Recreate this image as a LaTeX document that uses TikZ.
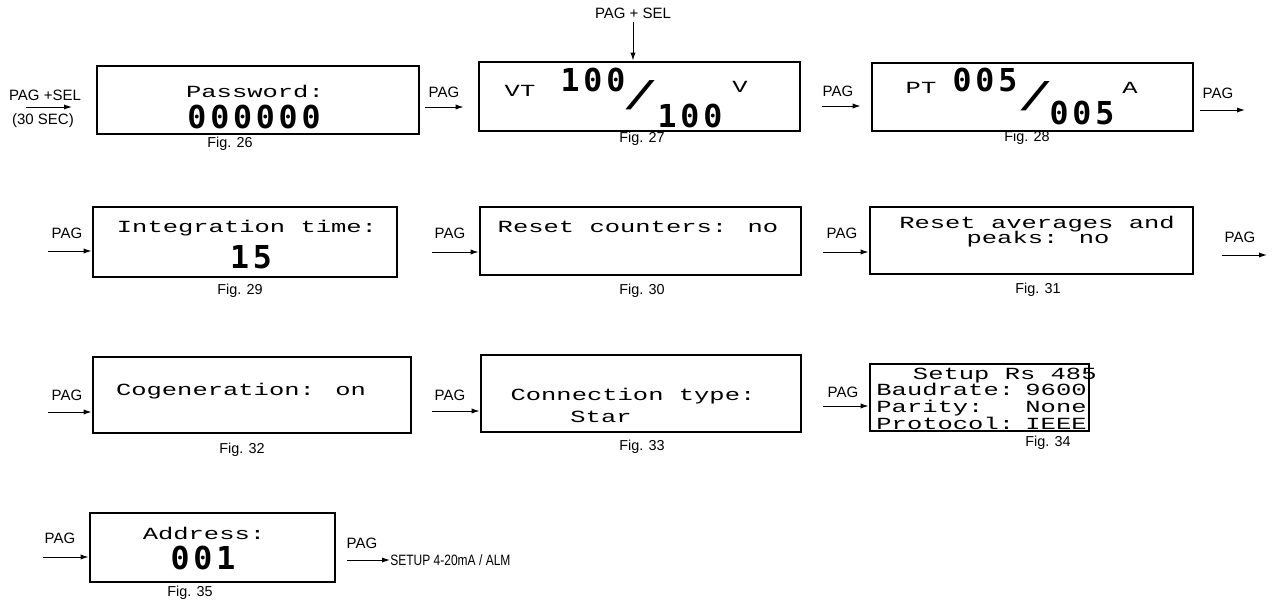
\documentclass[tikz,border=0pt]{standalone}
\usepackage{fontspec}
\setmainfont{Liberation Sans}
\newfontfamily\narrowfont[FakeStretch=0.8]{Liberation Sans}
\newfontfamily\lcdfont[FakeStretch=1.5]{Liberation Mono}
\newfontfamily\segfont[LetterSpace=12]{DejaVu Sans Mono}
\usetikzlibrary{arrows.meta, positioning, fit}

\begin{document}
\begin{tikzpicture}[
    x=0.5pt, y=-0.5pt, % one unit = one pixel of the sheet
    >={Latex[length=4pt, width=2.6pt]},
    screen/.style={draw, line width=1.4pt, inner sep=0pt},
    lcd/.style={font=\lcdfont\fontsize{8.5}{9}\selectfont, inner sep=0pt, anchor=base},
    seg/.style={font=\segfont\bfseries\fontsize{15.8}{16}\selectfont, inner sep=0pt},
    key/.style={font=\fontsize{7.5}{9}\selectfont, inner sep=0pt},
    figlabel/.style={font=\fontsize{7.2}{9}\selectfont, inner sep=0pt},
    flow/.style={->, line width=0.5pt}
]
\useasboundingbox (0,0) rectangle (1274,605);

% --- Display frames ---
\node[screen, fit={(97,66) (419,134)}] (f26) {};
\node[screen, fit={(479,62) (800,131)}] (f27) {};
\node[screen, fit={(872,63) (1193,131)}] (f28) {};
\node[screen, fit={(93,207) (397,277)}] (f29) {};
\node[screen, fit={(480,207) (801,275)}] (f30) {};
\node[screen, fit={(870,207) (1193,274)}] (f31) {};
\node[screen, fit={(93,357) (411,433)}] (f32) {};
\node[screen, fit={(481,355) (801,432)}] (f33) {};
\node[screen, fit={(870,364) (1089,431)}] (f34) {};
\node[screen, fit={(90,513) (335,582)}] (f35) {};

% --- Display contents (lcd lines sit on their baseline) ---
\node[lcd] (pwd) at (255,97) {Password:};
\node[seg] (pwdval) at (254,117) {000000};

\node[lcd] (vt) at (520,96) {VT};
\node[seg] (vtpri) at (593,80) {100};
\node[lcd, anchor=center, font=\lcdfont\fontsize{20}{20}\selectfont] (vtslash) at (640,95) {/};
\node[seg] (vtsec) at (690,116) {100};
\node[lcd] (vtunit) at (740,92) {V};

\node[lcd] (pt) at (921,93) {PT};
\node[seg] (ptpri) at (985,80) {005};
\node[lcd, anchor=center, font=\lcdfont\fontsize{20}{20}\selectfont] (ptslash) at (1035,96) {/};
\node[seg] (ptsec) at (1082,113) {005};
\node[lcd] (ptunit) at (1130,93) {A};

\node[lcd] (integ) at (247,232) {Integration time:};
\node[seg] (integval) at (251,257) {15};

\node[lcd] (rstcnt) at (638,232) {Reset counters: no};

\node[lcd] (rstavg) at (1037,228) {Reset averages and};
\node[lcd] (rstpk) at (1038,243) {peaks: no};

\node[lcd] (cogen) at (241,395) {Cogeneration: on};

\node[lcd] (conn) at (633,400) {Connection type:};
\node[lcd] (connval) at (601,422) {Star};

\node[lcd, anchor=base east] (rs) at (1097,379) {Setup Rs 485};
\node[lcd, anchor=base west] (baud) at (876,395) {Baudrate:};
\node[lcd, anchor=base east] (baudval) at (1087,395) {9600};
\node[lcd, anchor=base west] (par) at (876,412) {Parity:};
\node[lcd, anchor=base east] (parval) at (1087,412) {None};
\node[lcd, anchor=base west] (prot) at (876,429) {Protocol:};
\node[lcd, anchor=base east] (protval) at (1087,429) {IEEE};

\node[lcd] (addr) at (204,539) {Address:};
\node[seg] (addrval) at (203,558) {001};

% --- Figure numbers ---
\foreach \n/\fx/\fy in {26/230/144, 27/642/139, 28/1027/138, 29/240/291, 30/642/291,
                        31/1038/290, 32/242/450, 33/642/447, 34/1048/443, 35/190/593}
    \node[figlabel] (fig\n) at (\fx,\fy) {Fig. \n};

% --- Entry and PAG arrows of the first row ---
\node[key] (start) at (45,95) {PAG +SEL};
\node[key] (startnote) at (43,121) {(30 SEC)};
\coordinate (s0) at (26,107);
\coordinate (s1) at (72,107);
\draw[flow] (s0) -- (s1);

\node[key] (pag27) at (444,92) {PAG};
\coordinate (in27) at (425,107);
\draw[flow] (in27) -- (in27 -| f27.west) [shorten >=7pt];

\node[key] (pagsel) at (633,13) {PAG + SEL};
\coordinate (top27) at (633,22);
\draw[flow] (top27) -- (top27 |- f27.north);

\node[key] (pag28) at (838,91) {PAG};
\coordinate (in28) at (822,106);
\draw[flow] (in28) -- (in28 -| f28.west) [shorten >=5pt];

\node[key] (pagout1) at (1218,93) {PAG};
\coordinate (o1a) at (1200,110);
\coordinate (o1b) at (1245,110);
\draw[flow] (o1a) -- (o1b);

% --- PAG arrows into the other frames ---
\foreach \bx/\lx/\ly/\ax/\ay in {29/67/233/48/251, 30/450/233/432/252, 31/842/233/823/252,
                                 32/67/395/48/412, 33/450/395/432/411, 34/843/392/823/406,
                                 35/60/538/43/557}
{
    \node[key] (pag\bx) at (\lx,\ly) {PAG};
    \coordinate (in\bx) at (\ax,\ay);
    \draw[flow] (in\bx) -- (in\bx -| f\bx.west);
}

\node[key] (pagout2) at (1240,237) {PAG};
\coordinate (o2a) at (1222,255);
\coordinate (o2b) at (1267,255);
\draw[flow] (o2a) -- (o2b);

% --- Exit to the next menu ---
\node[key] (pagout3) at (362,543) {PAG};
\coordinate (o3a) at (347,560);
\node[key, anchor=west, font=\narrowfont\fontsize{7.5}{9}\selectfont] (nextmenu) at (390,560) {SETUP 4-20mA / ALM};
\draw[flow] (o3a) -- (nextmenu.west);

\end{tikzpicture}
\end{document}
